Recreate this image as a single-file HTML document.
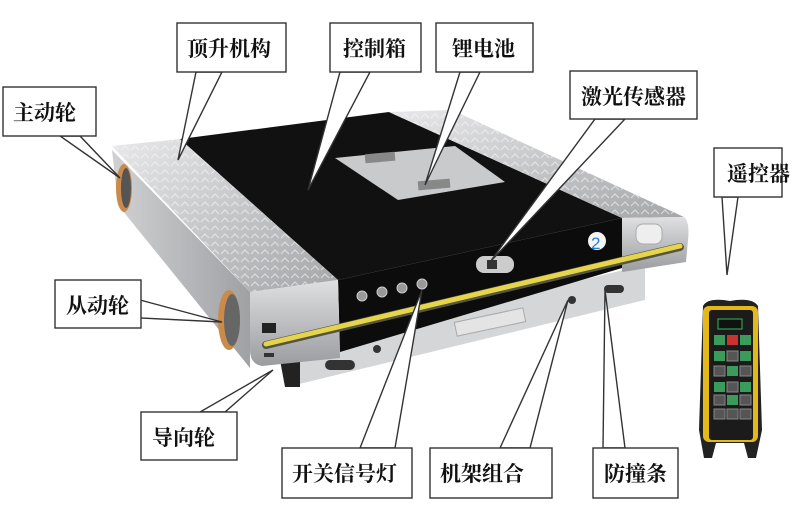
<!DOCTYPE html>
<html><head><meta charset="utf-8"><style>
html,body{margin:0;padding:0;background:#fff;}
svg{display:block}
text{font-family:"Liberation Serif","Noto Serif CJK SC",serif;font-size:21px;font-weight:bold;fill:#111;}
</style></head><body>
<svg width="803" height="521" viewBox="0 0 803 521" xmlns="http://www.w3.org/2000/svg">
<defs>
<linearGradient id="sil" x1="0" y1="0" x2="1" y2="1"><stop offset="0" stop-color="#e8e8ea"/><stop offset="1" stop-color="#a4a6a9"/></linearGradient>
<linearGradient id="face" x1="0" y1="0" x2="0" y2="1"><stop offset="0" stop-color="#e0e0e2"/><stop offset="1" stop-color="#9a9c9f"/></linearGradient>
<linearGradient id="side" x1="0" y1="0" x2="1" y2="0"><stop offset="0" stop-color="#d0d1d3"/><stop offset="1" stop-color="#9fa1a4"/></linearGradient>
<pattern id="tread" width="10" height="8" patternUnits="userSpaceOnUse"><path d="M1 6 L5 2 L9 6" stroke="#f6f6f6" stroke-width="1.2" fill="none"/></pattern>
</defs>
<!-- left side body -->
<polygon points="112,150 250,292 250,368 118,205" fill="url(#side)"/>
<!-- wheels -->
<ellipse cx="124" cy="188" rx="8" ry="24" fill="#c98a4a"/><ellipse cx="126" cy="188" rx="5" ry="20" fill="#555"/>
<ellipse cx="229" cy="320" rx="11" ry="30" fill="#c98a4a"/><ellipse cx="232" cy="320" rx="8" ry="26" fill="#666"/>
<!-- lower frame -->
<polygon points="287,350 645,265 645,300 295,385 285,385" fill="#d5d6d8"/>
<polygon points="280,360 300,360 300,387 285,387" fill="#222"/>
<!-- black top -->
<polygon points="180,139 389,112 622,218 338,280" fill="#111"/>
<!-- battery plate -->
<polygon points="335,158 455,146 505,182 398,200" fill="#c9cacc"/>
<rect x="365" y="153" width="30" height="9" fill="#888" transform="rotate(-5 380 157)"/>
<rect x="418" y="180" width="32" height="9" fill="#888" transform="rotate(-5 434 184)"/>
<!-- left silver plate -->
<polygon points="112,146 180,139 338,280 250,292" fill="url(#sil)"/>
<polygon points="112,146 180,139 338,280 250,292" fill="url(#tread)" opacity="0.6"/>
<!-- right silver plate -->
<polygon points="389,112 452,110 684,217 622,218" fill="url(#sil)"/>
<polygon points="389,112 452,110 684,217 622,218" fill="url(#tread)" opacity="0.6"/>
<!-- black front face -->
<polygon points="338,280 622,218 622,268 340,352" fill="#0c0c0c"/>
<!-- left front face -->
<path d="M250,292 L338,280 L340,358 L262,366 Q250,364 250,350 Z" fill="url(#face)"/>
<rect x="262" y="323" width="14" height="10" fill="#222"/>
<rect x="264" y="353" width="10" height="4" fill="#333"/>
<!-- right front face -->
<path d="M622,218 L684,217 Q690,222 688,240 L686,262 L622,272 Z" fill="url(#face)"/>
<rect x="636" y="224" width="26" height="20" rx="7" fill="#eee" stroke="#aaa"/>
<!-- number circle -->
<circle cx="597" cy="241" r="9" fill="#f4f4f4"/><text x="591" y="249" style="font-size:17px;fill:#2a7fd0;font-family:'Liberation Sans',sans-serif;font-weight:normal">2</text>
<!-- laser sensor -->
<rect x="476" y="256" width="38" height="17" rx="8" fill="#ccc"/><rect x="487" y="260" width="10" height="9" fill="#333"/>
<!-- lights -->
<circle cx="362" cy="296" r="5" fill="#999" stroke="#ccc"/><circle cx="382" cy="292" r="5" fill="#999" stroke="#ccc"/><circle cx="402" cy="288" r="5" fill="#999" stroke="#ccc"/><circle cx="422" cy="284" r="5" fill="#999" stroke="#ccc"/>
<!-- yellow bumper -->
<line x1="266" y1="345" x2="680" y2="247" stroke="#554" stroke-width="8" stroke-linecap="round"/>
<line x1="266" y1="344" x2="680" y2="246" stroke="#e6d44a" stroke-width="5" stroke-linecap="round"/>
<!-- frame details -->
<rect x="455" y="315" width="70" height="14" fill="#e4e4e4" stroke="#aaa" transform="rotate(-12 490 322)"/>
<rect x="325" y="360" width="30" height="10" rx="5" fill="#333"/>
<circle cx="377" cy="349" r="4" fill="#333"/><circle cx="572" cy="300" r="4" fill="#333"/>
<rect x="604" y="285" width="20" height="8" rx="4" fill="#333"/>

<!-- remote -->
<path d="M703,306 Q708,297 730,301 Q752,297 758,306 L762,430 L756,458 L748,458 L744,443 L716,443 L712,458 L704,458 L699,430 Z" fill="#222"/>
<rect x="703" y="306" width="55" height="136" rx="6" fill="#e3b81a"/>
<rect x="709" y="310" width="44" height="130" rx="3" fill="#1b1b1b"/>
<rect x="718" y="319" width="24" height="10" fill="#111" stroke="#3b5"/>
<g>
<rect x="714" y="335" width="11" height="10" fill="#3a9b5a"/><rect x="727" y="335" width="11" height="10" fill="#c83232"/><rect x="740" y="335" width="11" height="10" fill="#3a9b5a"/>
<rect x="714" y="351" width="11" height="10" fill="#3a9b5a"/><rect x="727" y="351" width="11" height="10" fill="#555" stroke="#888"/><rect x="740" y="351" width="11" height="10" fill="#3a9b5a"/>
<rect x="714" y="366" width="11" height="10" fill="#555" stroke="#888"/><rect x="727" y="366" width="11" height="10" fill="#3a9b5a"/><rect x="740" y="366" width="11" height="10" fill="#555" stroke="#888"/>
<rect x="714" y="382" width="11" height="10" fill="#3a9b5a"/><rect x="727" y="382" width="11" height="10" fill="#555" stroke="#888"/><rect x="740" y="382" width="11" height="10" fill="#3a9b5a"/>
<rect x="714" y="395" width="11" height="10" fill="#555" stroke="#888"/><rect x="727" y="395" width="11" height="10" fill="#3a9b5a"/><rect x="740" y="395" width="11" height="10" fill="#555" stroke="#888"/>
<rect x="714" y="409" width="11" height="10" fill="#555" stroke="#888"/><rect x="727" y="409" width="11" height="10" fill="#555" stroke="#888"/><rect x="740" y="409" width="11" height="10" fill="#555" stroke="#888"/>
</g>

<!-- callouts -->
<g fill="#fff" stroke="#333" stroke-width="1.4">
<polygon points="196,72 222,72 178,160"/>
<polygon points="340,72 370,72 308,190"/>
<polygon points="460,72 480,72 425,185"/>
<polygon points="595,119 625,119 490,262"/>
<polygon points="60,136 80,136 120,178"/>
<polygon points="722,197 738,197 727,275"/>
<polygon points="140,300 140,318 222,322"/>
<polygon points="200,412 225,412 273,370"/>
<polygon points="360,448 395,448 422,290"/>
<polygon points="500,448 530,448 568,300"/>
<polygon points="603,448 625,448 605,290"/>
</g>
<g fill="#fff" stroke="#333" stroke-width="1.4">
<rect x="177" y="23" width="109" height="49"/>
<rect x="330" y="23" width="91" height="49"/>
<rect x="436" y="23" width="97" height="49"/>
<rect x="570" y="71" width="127" height="48"/>
<rect x="3" y="87" width="93" height="49"/>
<rect x="714" y="148" width="68" height="49"/>
<rect x="55" y="280" width="86" height="48"/>
<rect x="141" y="412" width="96" height="48"/>
<rect x="282" y="448" width="130" height="50"/>
<rect x="430" y="448" width="122" height="50"/>
<rect x="593" y="448" width="85" height="50"/>
</g>
<g stroke="none">
<text x="187" y="56">顶升机构</text>
<text x="343" y="56">控制箱</text>
<text x="452" y="56">锂电池</text>
<text x="581" y="104">激光传感器</text>
<text x="13" y="120">主动轮</text>
<text x="727" y="181">遥控器</text>
<text x="66" y="313">从动轮</text>
<text x="152" y="445">导向轮</text>
<text x="292" y="481">开关信号灯</text>
<text x="440" y="481">机架组合</text>
<text x="604" y="481">防撞条</text>
</g>
</svg>
</body></html>
